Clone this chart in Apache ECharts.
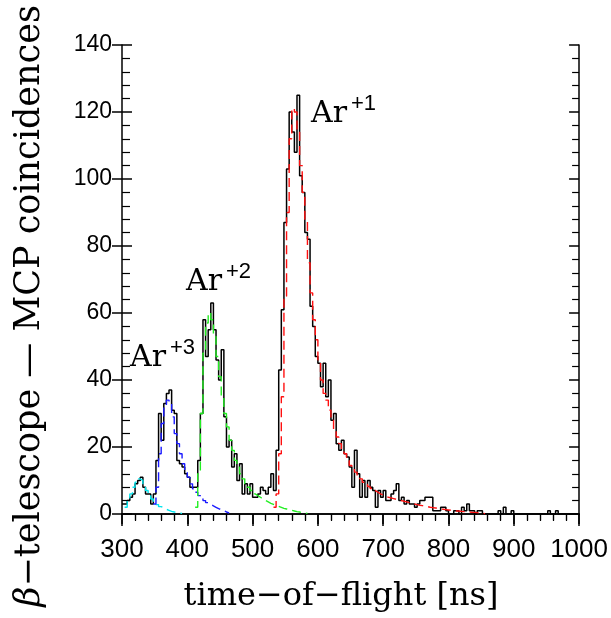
<!DOCTYPE html>
<html>
<head>
<meta charset="utf-8">
<script src="https://cdn.jsdelivr.net/npm/echarts/dist/echarts.min.js"></script>
<style>
  html, body { margin: 0; padding: 0; background: #fff; }
  #chart { width: 611px; height: 618px; }
</style>
</head>
<body>
<div id="chart"></div>
<script>
// ---- data (time-of-flight histogram, 4 ns bins starting at 300 ns) ----
const binFirst = 300;
const binWidth = 4;
const counts = [
  3,3,4,5,6,9,10,11,8,6,
  6,3,6,16,30,22,33,36,37,31,
  30,16,15,14,12,11,8,8,8,16,
  30,58,47,55,63,55,46,40,49,29,
  20,22,14,18,10,15,6,9,6,9,
  5,5,6,8,7,6,8,12,7,19,
  43,61,87,103,120,114,108,125,101,96,
  84,82,62,56,47,45,38,45,35,40,
  28,30,21,19,22,18,17,14,8,19,
  12,5,10,5,10,8,7,2,7,5,
  7,4,4,6,7,9,4,5,3,4,
  3,3,2,3,4,4,5,5,5,1,
  1,1,2,2,1,0,0,1,1,0,
  2,1,3,1,1,0,1,1,0,0,
  0,0,0,0,1,0,2,0,0,1,
  0,0,0,0,0,0,0,0,0,0,
  0,0,0,1,0,0,1,0,0,0,
  0,0,0,0,0
];

// fitted components (stepped model histograms)
const cyanFirst = 304;
const cyanFit = [2,4,6,8,9.5,10.5,10,8.5,7,5.5,4.5,3.5,2.8,2.2,1.8,1.4,1.1,0.8,0.6,0.4,0.3,0.2];
const blueFirst = 348;
const blueFit = [3,8,18,27,32,34,33,29,24,21,18,15,13,11,9,7.5,6.5,5.5,4.7,4,3.4,2.9,2.4,2,1.6,1.3,1,0.6,0.3];
const greenFirst = 412;
const greenFit = [2,12,30,48,57,60,58,53,47,41,35,30,26,22,19,16,14,12,10.5,9,8,7,6,5.5,5,4.5,4,3.6,3.2,2.9,2.6,2.3,2.0,1.7,1.5,1.3,1.1,0.9,0.7,0.6,0.4,0.3,0.2];
const redFirst = 532;
const redFit = [2,6,18,35,65,90,112,121,120,114,104,96,88,75,66,58,52,46,40,36,34,31,28,25,23,21,19,18,16,14.5,13.5,12.5,11.5,10.5,9.5,8.8,8.2,7.6,7,6.5,6,5.6,5.3,5,4.8,4.6,4.4,4.2,4,3.8,3.6,3.4,3.2,3.0,2.8,2.6,2.5,2.3,2.2,2.0,1.9,1.8,1.7,1.5,1.4,1.3,1.2,1.1,1,0.9,0.9,0.8,0.7,0.7,0.6,0.5,0.5,0.4,0.3,0.2,0.1];

const xTicks = { min: 300, max: 1000, interval: 100 };
const yTicks = { min: 0, max: 140, interval: 20 };

const peakLabels = [
  { name: 'Ar', sup: '+1', x: 311, y: 93 },
  { name: 'Ar', sup: '+2', x: 186, y: 261 },
  { name: 'Ar', sup: '+3', x: 130, y: 337 }
];

// ---- helpers ----
function stepData(first, vals) {
  const d = vals.map((v, i) => [first + i * binWidth, v]);
  d.push([first + vals.length * binWidth, vals[vals.length - 1]]);
  return d;
}

const chart = echarts.init(document.getElementById('chart'), null, { renderer: 'canvas' });

const black = '#000';
const frameLine = { show: true, lineStyle: { color: black, width: 1.5 } };

function xAx(extra) {
  return Object.assign({
    type: 'value', min: xTicks.min, max: xTicks.max, interval: xTicks.interval,
    splitLine: { show: false }, axisLabel: { show: false }, axisLine: { show: false },
    axisTick: { show: false }, minorTick: { show: false }
  }, extra);
}
function yAx(extra) {
  return Object.assign({
    type: 'value', min: yTicks.min, max: yTicks.max, interval: yTicks.interval,
    splitLine: { show: false }, axisLabel: { show: false }, axisLine: { show: false },
    axisTick: { show: false }, minorTick: { show: false }
  }, extra);
}

const fitStyle = (color) => ({
  type: 'line', step: 'end', showSymbol: false, symbol: 'none', xAxisIndex: 0, yAxisIndex: 0,
  lineStyle: { color: color, width: 1.4, type: [9, 5] }, z: 4, silent: true
});

const option = {
  animation: false,
  backgroundColor: '#fff',
  grid: { left: 122, right: 25, top: 45, bottom: 104, containLabel: false },
  xAxis: [
    xAx({
      position: 'bottom',
      axisLine: frameLine,
      axisTick: { show: true, inside: false, length: 12, lineStyle: { color: black, width: 1.5 } },
      minorTick: { show: true, splitNumber: 5, length: 6, lineStyle: { color: black, width: 1.2 } },
      axisLabel: { show: true, margin: 23, color: black, fontSize: 26, lineHeight: 26,
        fontFamily: 'Liberation Sans', showMaxLabel: true, showMinLabel: true,
        formatter: (v) => String(v) }
    }),
    xAx({
      position: 'top',
      axisLine: frameLine,
      axisTick: { show: true, inside: true, length: 10, lineStyle: { color: black, width: 1.5 } },
      minorTick: { show: true, splitNumber: 5, length: 7, lineStyle: { color: black, width: 1.2 } }
    })
  ],
  yAxis: [
    yAx({
      position: 'left',
      axisLine: frameLine,
      axisTick: { show: true, inside: true, length: 10, lineStyle: { color: black, width: 1.5 } },
      minorTick: { show: true, splitNumber: 5, length: 8, lineStyle: { color: black, width: 1.2 } },
      axisLabel: { show: true, margin: 10, color: black, fontSize: 23, fontFamily: 'Liberation Sans',
        formatter: (v) => String(v) }
    }),
    yAx({
      position: 'left',
      axisTick: { show: true, inside: false, length: 10, lineStyle: { color: black, width: 1.5 } }
    }),
    yAx({
      position: 'right',
      axisLine: frameLine,
      axisTick: { show: true, inside: true, length: 10, lineStyle: { color: black, width: 1.5 } },
      minorTick: { show: true, splitNumber: 5, length: 7, lineStyle: { color: black, width: 1.2 } }
    })
  ],
  series: [
    {
      name: 'data', type: 'line', step: 'end', showSymbol: false, symbol: 'none',
      xAxisIndex: 0, yAxisIndex: 0,
      lineStyle: { color: black, width: 1.5 }, z: 3, silent: true,
      data: stepData(binFirst, counts)
    },
    Object.assign(fitStyle('#00e5ee'), { name: 'cyan', data: stepData(cyanFirst, cyanFit) }),
    Object.assign(fitStyle('#1a1aff'), { name: 'blue', data: stepData(blueFirst, blueFit) }),
    Object.assign(fitStyle('#22ee22'), { name: 'green', data: stepData(greenFirst, greenFit) }),
    Object.assign(fitStyle('#ff1010'), { name: 'red', data: stepData(redFirst, redFit) })
  ],
  graphic: [
    {
      type: 'text', x: 341, y: 597, z: 10,
      style: {
        text: 'time−of−flight [ns]',
        font: '32px "DejaVu Serif"', fill: black,
        align: 'center', verticalAlign: 'middle', textAlign: 'center', textVerticalAlign: 'middle'
      }
    },
    {
      type: 'text', x: 30, y: 306, rotation: Math.PI / 2, z: 10,
      style: {
        text: '{b|β}{n|−telescope — MCP coincidences}',
        fill: black, align: 'center', verticalAlign: 'middle',
        textAlign: 'center', textVerticalAlign: 'middle',
        rich: {
          b: { fontFamily: 'DejaVu Serif', fontStyle: 'italic', fontSize: 35, fill: black, color: black },
          n: { fontFamily: 'DejaVu Serif', fontSize: 35, fill: black, color: black }
        }
      }
    }
  ].concat(peakLabels.map(p => ({
    type: 'text', x: p.x, y: p.y, z: 10,
    style: {
      text: '{a|' + p.name + '}{s|' + p.sup + '}',
      fill: black, align: 'left', verticalAlign: 'top', textAlign: 'left', textVerticalAlign: 'top',
      rich: {
        a: { fontFamily: 'DejaVu Serif', fontSize: 30, lineHeight: 36, verticalAlign: 'bottom', fill: black, color: black },
        s: { fontFamily: 'Liberation Sans', fontSize: 22, lineHeight: 22, verticalAlign: 'top', fill: black, color: black, padding: [0, 0, 0, 4] }
      }
    }
  })))
};

chart.setOption(option);
</script>
</body>
</html>
